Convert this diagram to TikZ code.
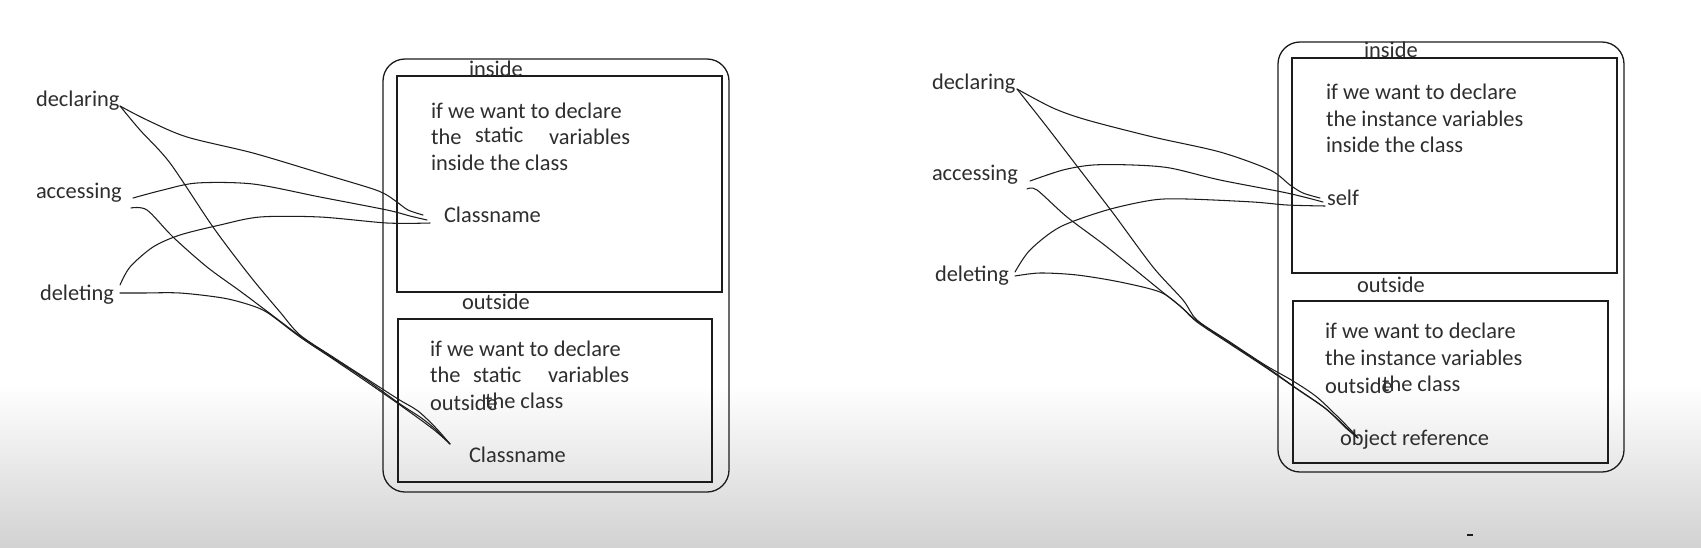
\documentclass[tikz,border=0pt]{standalone}
\usepackage{fontspec}
\setmainfont{Carlito}
\definecolor{txt}{HTML}{2E2E2E}
\definecolor{ink}{HTML}{1C1C1C}
\definecolor{bggray}{HTML}{D2D2D2}
\begin{document}
\begin{tikzpicture}[x=1pt,y=-1pt,
  lbl/.style={anchor=base west, inner sep=0pt, outer sep=0pt, text=txt, font=\fontsize{22.4}{26}\selectfont},
  frame/.style={draw=ink, line width=1.3pt, rounded corners=22pt, anchor=north west, inner sep=0pt, outer sep=0pt},
  panel/.style={draw=ink, line width=1.3pt, anchor=north west, inner sep=0pt, outer sep=0pt},
  wire/.style={draw=ink, line width=1.05pt, line join=round, line cap=round},
]
\useasboundingbox (0,0) rectangle (1701,547);
\fill[white] (0,0) rectangle (1701,547);
\shade[top color=white, bottom color=bggray] (0,385) rectangle (1701,547);

% ---------------- left panel ----------------
\node[frame, minimum width=346pt, minimum height=433pt] (Lframe) at (383,59) {};
\node[panel, minimum width=325pt, minimum height=216pt] (Lin) at (397,76) {};
\node[panel, minimum width=314pt, minimum height=163pt] (Lout) at (398,319) {};

\node[lbl] (Ldec) at (36,106) {declaring};
\node[lbl] (Lacc) at (36,198) {accessing};
\node[lbl] (Ldel) at (40,300) {deleting};

\node[lbl] (Linlab) at (469,76) {inside};
\node[lbl] (Lt1) at (431,118) {if we want to declare};
\node[lbl] (Lt2a) at (431,144) {the};
\node[lbl] (Lt2b) at (475,142) {static};
\node[lbl] (Lt2c) at (549,144) {variables};
\node[lbl] (Lt3) at (431,170) {inside the class};
\node[lbl] (Lcls1) at (444,222) {Classname};

\node[lbl] (Loutlab) at (462,309) {outside};
\node[lbl] (Lb1) at (430,356) {if we want to declare};
\node[lbl] (Lb2a) at (430,382) {the};
\node[lbl] (Lb2b) at (473,382) {static};
\node[lbl] (Lb2c) at (548,382) {variables};
\node[lbl] (Lb3a) at (485,408) {the class};
\node[lbl] (Lb3b) at (430,410) {outside};
\node[lbl] (Lcls2) at (469,462) {Classname};

\coordinate (LdecS) at (120,106);
\coordinate (LaccS1) at (133,198);
\coordinate (LaccS2) at (131,208);
\coordinate (LdelS1) at (120,285);
\coordinate (LdelS2) at (120,293);
\coordinate (LinE1) at (423,215);
\coordinate (LinE2) at (427,220);
\coordinate (LinE3) at (430,223);
\coordinate (LoutE) at (450,444);

\draw[wire] plot[smooth, tension=0.5] coordinates {(LdecS) (147,120) (187,137) (253,153) (320,173) (370,188) (385,194) (397,202) (408,210) (LinE1)};
\draw[wire] plot[smooth, tension=0.5] coordinates {(LaccS1) (163,190) (197,183) (253,184) (320,197) (387,210) (410,216) (LinE2)};
\draw[wire] plot[smooth, tension=0.5] coordinates {(LdelS1) (130,267) (153,247) (180,235) (220,225) (260,217) (320,217) (387,223) (LinE3)};

\draw[wire] plot[smooth, tension=0.5] coordinates {(LdecS) (140,130) (170,163) (213,227) (250,276) (280,312) (300,335) (333,357) (367,379) (398,399) (418,411) (436,428) (LoutE)};
\draw[wire] plot[smooth, tension=0.5] coordinates {(LaccS2) (147,210) (173,237) (207,267) (240,291) (268,312) (300,336) (333,358) (368,381) (400,404) (420,417) (434,428) (LoutE)};
\draw[wire] plot[smooth, tension=0.5] coordinates {(LdelS2) (143,293) (180,293) (223,298) (250,305) (268,313) (300,337) (333,359) (367,382) (400,405) (433,429) (LoutE)};

% ---------------- right panel ----------------
\node[frame, minimum width=346pt, minimum height=430pt] (Rframe) at (1278,42) {};
\node[panel, minimum width=325pt, minimum height=215pt] (Rin) at (1292,58) {};
\node[panel, minimum width=315pt, minimum height=162pt] (Rout) at (1293,301) {};

\node[lbl] (Rdec) at (932,89) {declaring};
\node[lbl] (Racc) at (932,180) {accessing};
\node[lbl] (Rdel) at (935,281) {deleting};

\node[lbl] (Rinlab) at (1364,57) {inside};
\node[lbl] (Rt1) at (1326,99) {if we want to declare};
\node[lbl] (Rt2) at (1326,126) {the instance variables};
\node[lbl] (Rt3) at (1326,152) {inside the class};
\node[lbl] (Rself) at (1327,205) {self};

\node[lbl] (Routlab) at (1357,292) {outside};
\node[lbl] (Rb1) at (1325,338) {if we want to declare};
\node[lbl] (Rb2) at (1325,365) {the instance variables};
\node[lbl] (Rb3a) at (1382,391) {the class};
\node[lbl] (Rb3b) at (1325,393) {outside};
\node[lbl] (Robj) at (1340,445) {object reference};

\coordinate (RdecS) at (1017,89);
\coordinate (RaccS1) at (1030,181);
\coordinate (RaccS2) at (1027,189);
\coordinate (RdelS1) at (1015,272);
\coordinate (RdelS2) at (1015,276);
\coordinate (RinE1) at (1320,198);
\coordinate (RinE2) at (1323,202);
\coordinate (RinE3) at (1325,206);
\coordinate (RoutE) at (1358,438);

\draw[wire] plot[smooth, tension=0.5] coordinates {(RdecS) (1053,108) (1087,120) (1153,137) (1220,152) (1270,170) (1290,185) (1303,193) (RinE1)};
\draw[wire] plot[smooth, tension=0.5] coordinates {(RaccS1) (1063,170) (1093,165) (1133,165) (1170,168) (1220,180) (1287,193) (RinE2)};
\draw[wire] plot[smooth, tension=0.5] coordinates {(RdelS1) (1030,250) (1060,227) (1107,210) (1153,200) (1187,199) (1253,202) (1287,205) (RinE3)};

\draw[wire] plot[smooth, tension=0.5] coordinates {(RdecS) (1047,127) (1080,170) (1113,213) (1153,267) (1183,300) (1197,320) (1230,342) (1265,365) (1293,381) (1318,398) (1347,426) (RoutE)};
\draw[wire] plot[smooth, tension=0.5] coordinates {(RaccS2) (1037,190) (1067,217) (1107,247) (1160,290) (1180,306) (1197,321) (1230,343) (1265,366) (1296,388) (1325,408) (1347,428) (RoutE)};
\draw[wire] plot[smooth, tension=0.5] coordinates {(RdelS2) (1040,273) (1077,275) (1120,282) (1160,292) (1180,306) (1197,322) (1230,344) (1265,367) (1297,389) (1326,409) (1347,429) (RoutE)};

% small mark at the bottom
\coordinate (markA) at (1467,535);
\coordinate (markB) at (1473,535);
\draw[ink, line width=2pt] (markA) -- (markB);
\end{tikzpicture}
\end{document}
